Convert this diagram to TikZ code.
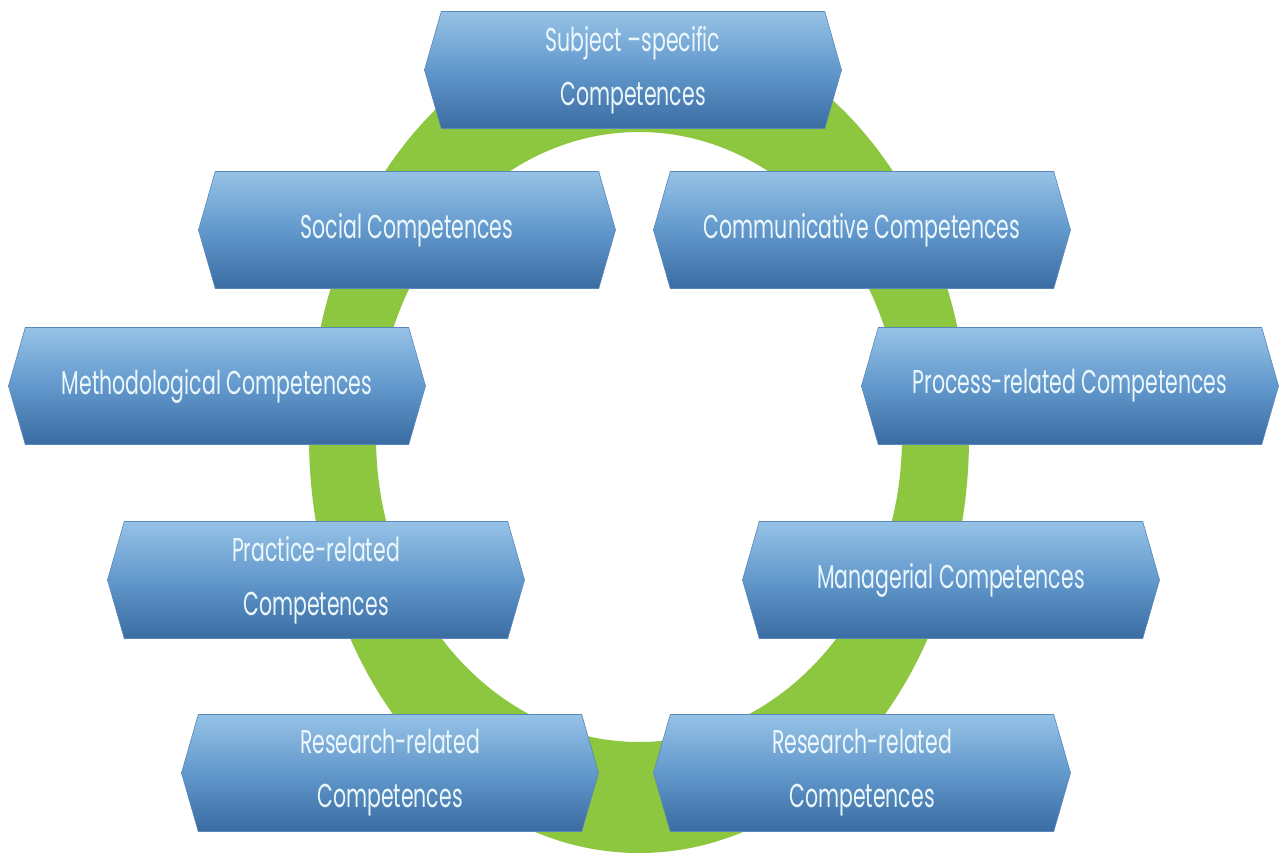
\documentclass[tikz,border=0pt]{standalone}
\usepackage{fontspec}
\newfontfamily\compfont[FakeStretch=0.62]{Poppins}
\usetikzlibrary{shapes.symbols}

\definecolor{ringgreen}{RGB}{141,198,63}
\definecolor{boxtop}{RGB}{150,194,230}
\definecolor{boxmid}{RGB}{98,152,204}
\definecolor{boxbot}{RGB}{58,108,162}
\definecolor{boxline}{RGB}{88,136,186}
\definecolor{comptext}{RGB}{236,247,252}

\tikzset{
  comp/.style={signal, signal to=east and west, signal pointer angle=148,
    minimum width=417pt, minimum height=117pt, inner sep=0pt,
    top color=boxtop, bottom color=boxbot, middle color=boxmid,
    draw=boxline, line width=0.6pt,
    text=comptext, align=center,
    font=\compfont\fontsize{33}{54}\selectfont}
}

\begin{document}
\begin{tikzpicture}[x=1pt, y=-1pt]
        \fill[white] (0,0) rectangle (1282,854);
        \useasboundingbox (0,0) rectangle (1282,854);

        % green ring behind the boxes
        \fill[ringgreen, even odd rule]
          (639,437) ellipse [x radius=330, y radius=416]
          (639,437) ellipse [x radius=263, y radius=305];

        \node[comp] (subject)    at (633,70)  {Subject –specific\\Competences};
        \node[comp] (social)     at (407,230) {Social Competences};
        \node[comp] (commun)     at (862,230) {Communicative Competences};
        \node[comp] (method)     at (217,386) {Methodological Competences};
        \node[comp] (process)    at (1070,386) {Process-related Competences};
        \node[comp] (practice)   at (316,580) {Practice-related\\Competences};
        \node[comp] (managerial) at (951,580) {Managerial Competences};
        \node[comp] (researchL)  at (390,773) {Research-related\\Competences};
        \node[comp] (researchR)  at (862,773) {Research-related\\Competences};
\end{tikzpicture}
\end{document}
